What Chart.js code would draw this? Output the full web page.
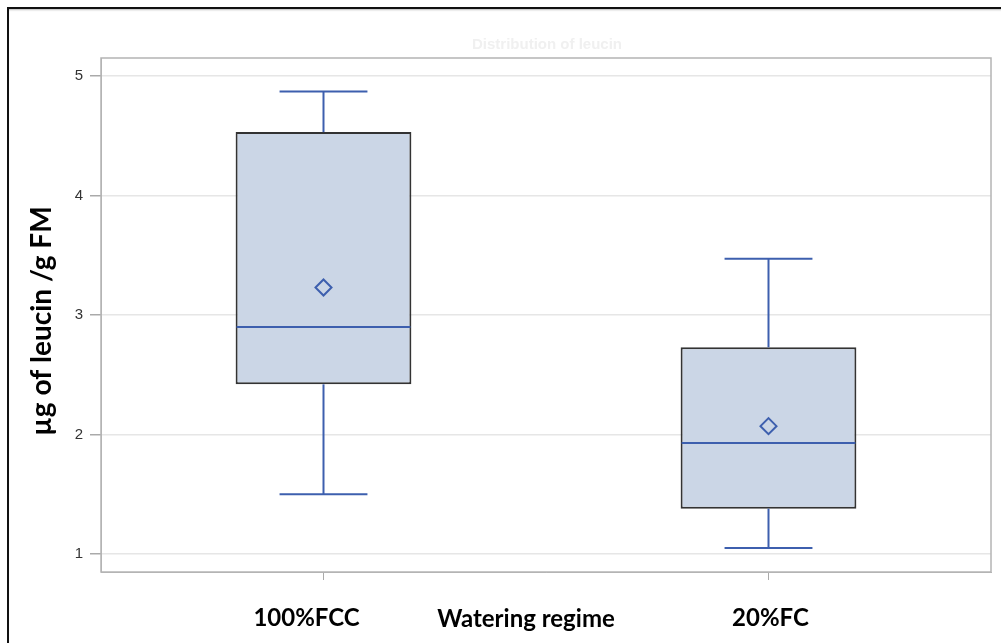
<!DOCTYPE html>
<html>
<head>
<meta charset="utf-8">
<script src="https://cdn.jsdelivr.net/npm/chart.js@4"></script>
<style>
  html, body { margin: 0; padding: 0; background: #fff; }
  #wrap { position: relative; width: 1001px; height: 643px; overflow: hidden; }
  #frame { position: absolute; left: 7px; top: 7px; width: 1100px; height: 800px;
           border-left: 2px solid #111; border-top: 2px solid #111;
           box-shadow: inset 0 2px 2px -1px #bbb; }
  canvas { position: absolute; left: 0; top: 0; }
</style>
</head>
<body>
<div id="wrap">
  <div id="frame"></div>
  <canvas id="boxChart" width="1001" height="643"></canvas>
</div>
<script>
// data
const categories = ["100%FCC", "20%FC"];
const whiskerLow = [1.50, 1.05];
const q1 = [2.42, 1.38];
const median = [2.90, 1.93];
const mean = [3.23, 2.07];
const q3 = [4.53, 2.73];
const whiskerHigh = [4.87, 3.47];
const yTicks = [1, 2, 3, 4, 5];

const yTitle = "µg of leucin /g FM";
const xTitle = "Watering regime";
const faintTitle = "Distribution of leucin";

const blue = "#3d5fae";
const boldFont = "Lato, 'Liberation Sans', sans-serif";

// category label nudges (the labels are not quite under the ticks)
const labelShift = [-17, 2];

const boxPlotExtras = {
    id: "boxPlotExtras",
    afterDatasetsDraw(chart) {
        const ctx = chart.ctx;
        const y = chart.scales.y;
        const bars = chart.getDatasetMeta(1).data;
        ctx.save();
        ctx.strokeStyle = blue;
        ctx.lineWidth = 2;
        bars.forEach((bar, i) => {
            const half = bar.width / 2;
            const capHalf = bar.width / 4;
            const lines = [
                [bar.x, y.getPixelForValue(q3[i]), bar.x, y.getPixelForValue(whiskerHigh[i])],
                [bar.x, y.getPixelForValue(q1[i]), bar.x, y.getPixelForValue(whiskerLow[i])],
                [bar.x - capHalf, y.getPixelForValue(whiskerHigh[i]), bar.x + capHalf, y.getPixelForValue(whiskerHigh[i])],
                [bar.x - capHalf, y.getPixelForValue(whiskerLow[i]), bar.x + capHalf, y.getPixelForValue(whiskerLow[i])],
                [bar.x - half + 1, y.getPixelForValue(median[i]), bar.x + half - 1, y.getPixelForValue(median[i])]
            ];
            lines.forEach(l => {
                ctx.beginPath();
                ctx.moveTo(l[0], l[1]);
                ctx.lineTo(l[2], l[3]);
                ctx.stroke();
            });
        });
        ctx.restore();
    },
    afterDraw(chart) {
        const ctx = chart.ctx;
        const a = chart.chartArea;
        const x = chart.scales.x;
        ctx.save();
        // plot frame
        ctx.strokeStyle = "#b4b4b4";
        ctx.lineWidth = 1.5;
        ctx.strokeRect(a.left, a.top, a.right - a.left, a.bottom - a.top);

        // category labels + axis title on one line
        ctx.fillStyle = "#000";
        ctx.textAlign = "center";
        ctx.textBaseline = "alphabetic";
        ctx.font = "bold 24px " + boldFont;
        categories.forEach((c, i) => {
            ctx.fillText(c, x.getPixelForValue(i) + labelShift[i], 626);
        });
        ctx.fillText(xTitle, (a.left + a.right) / 2 - 20, 627);

        // y title
        ctx.translate(42, 321);
        ctx.rotate(-Math.PI / 2);
        ctx.textBaseline = "middle";
        ctx.font = "bold 28px " + boldFont;
        ctx.fillText(yTitle, 0, 0);
        ctx.restore();

        // barely visible title
        ctx.save();
        ctx.fillStyle = "#f0f0f0";
        ctx.font = "bold 15px 'Liberation Sans', sans-serif";
        ctx.textAlign = "center";
        ctx.textBaseline = "middle";
        ctx.fillText(faintTitle, 547, 45);
        ctx.restore();
    }
};

const chart = new Chart(document.getElementById("boxChart"), {
    data: {
        labels: categories,
        datasets: [
            {
                type: "line",
                label: "Mean",
                data: mean,
                showLine: false,
                pointStyle: "rectRot",
                pointRadius: 8,
                pointBorderWidth: 2,
                pointBorderColor: blue,
                pointBackgroundColor: "rgba(0,0,0,0)",
                order: 0
            },
            {
                type: "bar",
                label: "Box",
                data: q1.map((v, i) => [v, q3[i]]),
                backgroundColor: "#cbd6e6",
                borderColor: "#333",
                borderWidth: 2,
                borderSkipped: false,
                barPercentage: 0.395,
                categoryPercentage: 1,
                order: 1
            }
        ]
    },
    options: {
        responsive: false,
        animation: false,
        layout: { padding: { left: 0, top: 58, right: 6, bottom: 0 } },
        plugins: {
            legend: { display: false },
            tooltip: { enabled: false },
            title: { display: false }
        },
        scales: {
            x: {
                offset: true,
                grid: {
                    display: true,
                    drawOnChartArea: false,
                    offset: false,
                    tickLength: 8,
                    tickColor: "#aaa"
                },
                border: { color: "#b4b4b4" },
                ticks: { display: false },
                afterFit: (scale) => { scale.height = 71; }
            },
            y: {
                min: 0.85,
                max: 5.15,
                afterBuildTicks: (scale) => { scale.ticks = yTicks.map(v => ({ value: v })); },
                grid: {
                    color: "#e6e6e6",
                    lineWidth: 1.5,
                    tickLength: 11,
                    tickColor: "#aaa"
                },
                border: { color: "#b4b4b4" },
                ticks: {
                    color: "#333",
                    padding: 7,
                    font: { family: "'Liberation Sans', Arial, sans-serif", size: 15 }
                },
                afterFit: (scale) => { scale.width = 101; }
            }
        }
    },
    plugins: [boxPlotExtras]
});
</script>
</body>
</html>
